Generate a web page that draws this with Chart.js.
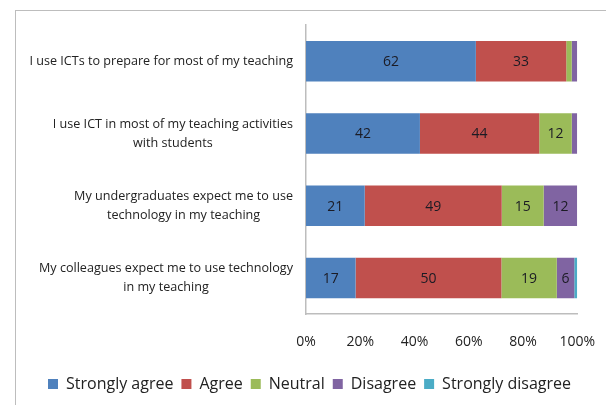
<!DOCTYPE html>
<html>
<head>
<meta charset="utf-8">
<script src="https://cdn.jsdelivr.net/npm/chart.js@4/dist/chart.umd.min.js"></script>
<style>
  html, body { margin: 0; padding: 0; background: #fff; }
  #wrap { width: 606px; height: 405px; }
</style>
</head>
<body>
<div id="wrap"><canvas id="chart" width="606" height="405"></canvas></div>
<script>
const statements = [
  ["I use ICTs to prepare for most of my teaching"],
  ["I use ICT in most of my teaching activities", "with students"],
  ["My undergraduates expect me to use", "technology in my teaching"],
  ["My colleagues expect me to use technology", "in my teaching"]
];
const stronglyAgree    = [62, 42, 21, 17];
const agree            = [33, 44, 49, 50];
const neutral          = [2, 12, 15, 19];
const disagree         = [2, 2, 12, 6];
const stronglyDisagree = [0, 0, 0, 1];
const seriesNames = ["Strongly agree", "Agree", "Neutral", "Disagree", "Strongly disagree"];
const seriesColors = ["#4F81BD", "#C0504D", "#9BBB59", "#8064A2", "#4BACC6"];

const FONT = "'Open Sans', sans-serif";
const raw = [stronglyAgree, agree, neutral, disagree, stronglyDisagree];
const totals = statements.map((_, i) => raw.reduce((s, arr) => s + arr[i], 0));

// 100% stacked: each row is scaled to its own total
const datasets = raw.map((arr, k) => ({
  label: seriesNames[k],
  data: arr.map((v, i) => v / totals[i] * 100),
  rawValues: arr,
  backgroundColor: seriesColors[k],
  borderWidth: 0,
  barPercentage: 0.56,
  categoryPercentage: 1
}));

const frame = {
  id: 'frame',
  beforeDraw(chart) {
    const ctx = chart.ctx;
    ctx.save();
    ctx.strokeStyle = '#bdbdbd';
    ctx.lineWidth = 1;
    ctx.strokeRect(15.5, 10.5, 700, 500);
    ctx.restore();
  }
};

const barValues = {
  id: 'barValues',
  afterDatasetsDraw(chart) {
    const ctx = chart.ctx;
    ctx.save();
    ctx.font = "14px " + FONT;
    ctx.fillStyle = '#1b1b24';
    ctx.textAlign = 'center';
    ctx.textBaseline = 'middle';
    chart.data.datasets.forEach((ds, k) => {
      chart.getDatasetMeta(k).data.forEach((bar, i) => {
        const v = ds.rawValues[i];
        if (v < 5) return;
        const p = bar.getProps(['x', 'y', 'base'], true);
        ctx.fillText(String(v), (p.x + p.base) / 2, p.y + 1);
      });
    });
    ctx.restore();
  }
};

const statementLabels = {
  id: 'statementLabels',
  afterDraw(chart) {
    const ctx = chart.ctx;
    const yScale = chart.scales.y;
    const right = chart.chartArea.left - 13;
    ctx.save();
    ctx.font = "12.6px " + FONT;
    ctx.fillStyle = '#222';
    ctx.textAlign = 'center';
    ctx.textBaseline = 'middle';
    chart.data.labels.forEach((lines, i) => {
      const cy = yScale.getPixelForTick(i);
      const widest = Math.max(...lines.map(l => ctx.measureText(l).width));
      const cx = right - widest / 2;
      lines.forEach((l, j) => {
        ctx.fillText(l, cx, cy + (j - (lines.length - 1) / 2) * 19);
      });
    });
    ctx.restore();
  }
};

new Chart(document.getElementById('chart'), {
  type: 'bar',
  data: { labels: statements, datasets },
  plugins: [frame, barValues, statementLabels],
  options: {
    indexAxis: 'y',
    responsive: false,
    animation: false,
    layout: { padding: { top: 25, right: 10, bottom: 3, left: 23 } },
    plugins: {
      tooltip: { enabled: false },
      legend: {
        position: 'bottom',
        labels: {
          boxWidth: 10,
          boxHeight: 10,
          padding: 8,
          color: '#222',
          font: { family: FONT, size: 16 }
        }
      }
    },
    scales: {
      x: {
        stacked: true,
        min: 0,
        max: 100,
        grid: { display: false },
        border: { color: '#bdbdbd', width: 1.5 },
        ticks: {
          stepSize: 20,
          padding: 11,
          color: '#222',
          font: { family: FONT, size: 14 },
          callback: v => v + '%'
        },
        afterFit: s => { s.height += 7; }
      },
      y: {
        stacked: true,
        grid: { display: false },
        border: { color: '#bdbdbd', width: 1.5 },
        ticks: { display: false },
        afterFit: s => { s.width = 283; }
      }
    }
  }
});
</script>
</body>
</html>
